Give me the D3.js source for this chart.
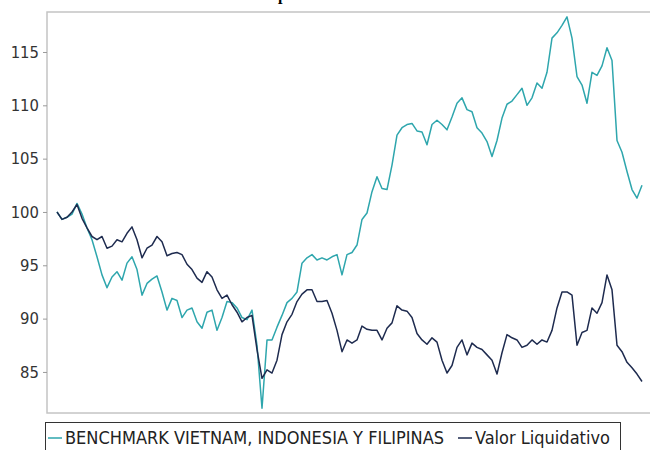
<!DOCTYPE html>
<html>
<head>
<meta charset="utf-8">
<script src="https://cdn.jsdelivr.net/npm/d3@7"></script>
<style>
  body { margin: 0; background: #fff; }
  svg { display: block; }
</style>
</head>
<body>
<div id="chart"></div>
<script>
// series values (index = observation)
var benchmark = [
  100.0, 99.3, 99.5, 99.8, 100.8, 99.8, 98.5, 97.4, 95.8, 94.1,
  92.9, 93.9, 94.4, 93.6, 95.2, 95.8, 94.6, 92.2, 93.3, 93.7,
  94.0, 92.5, 90.8, 91.9, 91.7, 90.1, 90.8, 91.0, 89.7, 89.1,
  90.6, 90.8, 88.9, 90.1, 91.6, 91.5, 91.0, 90.1, 89.9, 90.8,
  87.5, 81.6, 88.0, 88.0, 89.2, 90.3, 91.5, 91.9, 92.5, 95.2,
  95.7, 96.0, 95.5, 95.7, 95.5, 95.8, 96.0, 94.1, 96.0, 96.2,
  96.9, 99.3, 99.9, 101.9, 103.3, 102.2, 102.1, 104.4, 107.2, 107.9,
  108.2, 108.3, 107.6, 107.5, 106.3, 108.2, 108.6, 108.2, 107.7, 108.9,
  110.2, 110.7, 109.6, 109.4, 107.9, 107.4, 106.6, 105.2, 106.7, 108.8,
  110.1, 110.4, 111.0, 111.6, 110.0, 110.7, 112.1, 111.6, 113.1, 116.3,
  116.8, 117.5, 118.3, 116.3, 112.7, 111.9, 110.2, 113.1, 112.8, 113.7,
  115.4, 114.2, 106.7, 105.6, 103.8, 102.1, 101.3, 102.5
];

var valor = [
  100.0, 99.3, 99.5, 100.0, 100.7, 99.4, 98.5, 97.7, 97.4, 97.7,
  96.6, 96.8, 97.4, 97.2, 98.0, 98.6, 97.4, 95.7, 96.6, 96.9,
  97.7, 97.2, 95.9, 96.1, 96.2, 96.0, 95.1, 94.6, 93.8, 93.4,
  94.4, 93.9, 92.7, 91.9, 92.2, 91.3, 90.6, 89.7, 90.1, 90.3,
  87.1, 84.4, 85.2, 84.9, 86.1, 88.5, 89.7, 90.4, 91.6, 92.3,
  92.7, 92.7, 91.6, 91.6, 91.7, 90.5, 88.9, 86.9, 88.0, 87.7,
  88.0, 89.3, 89.0, 88.9, 88.9, 88.0, 89.1, 89.6, 91.2, 90.8,
  90.7, 90.1, 88.6, 88.0, 87.6, 88.2, 87.8, 86.1, 84.9, 85.6,
  87.3, 88.0, 86.6, 87.7, 87.3, 87.1, 86.6, 86.1, 84.8, 86.8,
  88.5, 88.2, 88.0, 87.3, 87.5, 88.0, 87.6, 88.0, 87.8, 88.9,
  91.0, 92.5, 92.5, 92.2, 87.5, 88.7, 88.9, 91.0, 90.5, 91.5,
  94.1, 92.7, 87.5, 86.9, 85.9, 85.4, 84.8, 84.1
];

var yTicks = [85, 90, 95, 100, 105, 110, 115];
var seriesNames = ["BENCHMARK VIETNAM, INDONESIA Y FILIPINAS", "Valor Liquidativo"];
var seriesColors = ["#2ea6ad", "#1e2b4f"];

// dimensions
var margin = {top: 12, right: -20, bottom: 37, left: 47},
    width = 650 - margin.left - margin.right,
    height = 450 - margin.top - margin.bottom;

var svg = d3.select("#chart")
  .append("svg")
    .attr("width", 650)
    .attr("height", 450);

// title (mostly above the visible area, as in the original)
svg.append("text")
  .attr("x", 245)
  .attr("y", 0)
  .style("font-family", "'Liberation Serif', serif")
  .style("font-weight", "bold")
  .style("font-size", "16px")
  .text("Comparativa");

var g = svg.append("g")
  .attr("transform", "translate(" + margin.left + "," + margin.top + ")");

// scales
var x = d3.scaleLinear()
  .domain([0, benchmark.length - 1])
  .range([10, 595]);

var y = d3.scaleLinear()
  .domain([81.15, 118.75])
  .range([height, 0]);

// plot frame
g.append("rect")
  .attr("x", 0)
  .attr("y", 0)
  .attr("width", width)
  .attr("height", height)
  .attr("fill", "#fff")
  .attr("stroke", "#c4c4c4")
  .attr("stroke-width", 1.5);

// y axis
var yAxis = g.append("g")
  .call(d3.axisLeft(y).tickValues(yTicks).tickSize(4).tickPadding(4));
yAxis.select(".domain").remove();
yAxis.selectAll("line").attr("stroke", "#9a9a9a");
yAxis.selectAll("text")
  .style("font-family", "'DejaVu Sans Condensed', 'DejaVu Sans', sans-serif")
  .style("font-stretch", "condensed")
  .style("font-size", "16.5px")
  .attr("fill", "#333");

// lines
var line = d3.line()
  .x(function (d, i) { return x(i); })
  .y(function (d) { return y(d); });

g.append("path")
  .attr("fill", "none")
  .attr("stroke", seriesColors[0])
  .attr("stroke-width", 1.5)
  .attr("stroke-linejoin", "round")
  .attr("d", line(benchmark));

g.append("path")
  .attr("fill", "none")
  .attr("stroke", seriesColors[1])
  .attr("stroke-width", 1.5)
  .attr("stroke-linejoin", "round")
  .attr("d", line(valor));

// legend
var legend = svg.append("g");
legend.append("rect")
  .attr("x", 45.5)
  .attr("y", 422.5)
  .attr("width", 575)
  .attr("height", 40)
  .attr("fill", "#fff")
  .attr("stroke", "#333");

var legendX = [48, 458];
seriesNames.forEach(function (name, i) {
  legend.append("line")
    .attr("x1", legendX[i])
    .attr("x2", legendX[i] + 14)
    .attr("y1", 438)
    .attr("y2", 438)
    .attr("stroke", seriesColors[i])
    .attr("stroke-width", 1.5);
  legend.append("text")
    .attr("x", legendX[i] + 17)
    .attr("y", 444)
    .style("font-family", "'DejaVu Sans Condensed', 'DejaVu Sans', sans-serif")
    .style("font-stretch", "condensed")
    .style("font-size", "18px")
    .attr("fill", "#222")
    .text(name);
});
</script>
</body>
</html>
